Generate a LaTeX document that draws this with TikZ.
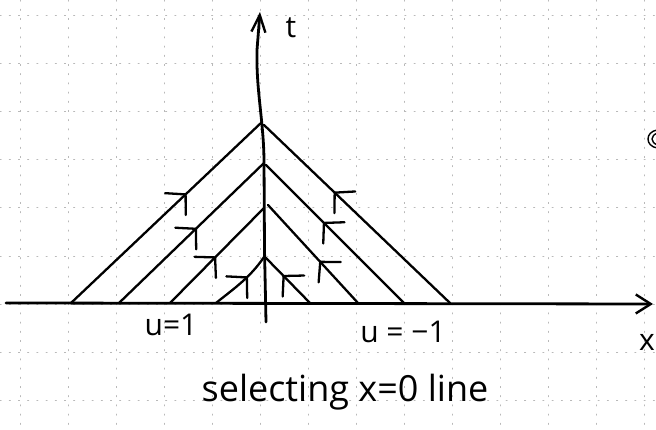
\documentclass[tikz,border=0pt]{standalone}
\usepackage{fontspec}
\setmainfont{Open Sans}
\usetikzlibrary{arrows.meta,decorations.markings}
\begin{document}
\begin{tikzpicture}[x=1pt,y=-1pt,line cap=round,line join=round,
  gridline/.style={gray!55,line width=0.8pt,dash pattern=on 1.2pt off 8pt},
  axisline/.style={line width=2.8pt},
  charline/.style={line width=2.3pt},
  lbl/.style={font=\fontsize{30}{34}\selectfont,inner sep=0pt,anchor=base},
  midarrow/.style={postaction={decorate},decoration={markings,
     mark=at position #1 with {\draw[line width=2.3pt,solid] (-14pt,15pt) -- (0pt,0pt) -- (-14pt,-15pt);}}}]
\useasboundingbox (0,0) rectangle (656,430);
% graph paper grid
\foreach \k in {0,...,13} \draw[gridline] (20.5+48*\k,0) -- (20.5+48*\k,430);
\foreach \k in {0,...,8} \draw[gridline] (0,15+48.2*\k) -- (656,15+48.2*\k);
% named points
\coordinate (xs) at (6,303);
\coordinate (xe) at (653,304);
\coordinate (ts) at (266,322);
\coordinate (te) at (260,12);
\coordinate (a1) at (262,122); \coordinate (b1) at (264,125);
\coordinate (a2) at (264,163); \coordinate (b2) at (266,165);
\coordinate (a3) at (264,208); \coordinate (b3) at (268,205);
\coordinate (a4) at (264,257); \coordinate (b4) at (266,258);
\coordinate (l1) at (71,303);  \coordinate (r1) at (450,303);
\coordinate (l2) at (119,303); \coordinate (r2) at (404,303);
\coordinate (l3) at (170,303); \coordinate (r3) at (358,303);
\coordinate (l4) at (216,303); \coordinate (r4) at (310,303);
% axes
\draw[axisline,-{Straight Barb[length=15pt,width=19pt,line width=2.4pt]}] (xs) -- (xe);
\draw[axisline,-{Straight Barb[length=17pt,width=14pt,line width=2.4pt]}]
  (ts) -- (264.5,250) -- (264,160) .. controls (263.5,120) and (256,90) .. (257,50) -- (te);
% characteristics from the left
\draw[charline,midarrow=0.60] (l1) -- (a1);
\draw[charline,midarrow=0.53] (l2) -- (a2);
\draw[charline,midarrow=0.48] (l3) -- (a3);
\draw[charline,midarrow=0.60] (l4) .. controls (232,290) and (250,278) .. (a4);
% characteristics from the right
\draw[charline,midarrow=0.62] (r1) -- (b1);
\draw[charline,midarrow=0.58] (r2) -- (b2);
\draw[charline,midarrow=0.42] (r3) -- (b3);
\draw[charline,midarrow=0.60] (r4) -- (b4);
% labels
\node[lbl] (tl) at (291,38) {t};
\node[lbl] (xl) at (647,350) {x};
\node[lbl] (u1) at (171,335) {u=1};
\node[lbl] (um1) at (403,342) {u = −1};
\node[lbl,font=\fontsize{36}{40}\selectfont] (cap) at (345,401) {selecting x=0 line};
% stray mark at the right edge
\draw[line width=1.4pt] (657,130) .. controls (645,132) and (645,146) .. (657,148);
\draw[line width=1.4pt] (658,133) .. controls (650,135) and (650,143) .. (658,145);
\end{tikzpicture}
\end{document}
